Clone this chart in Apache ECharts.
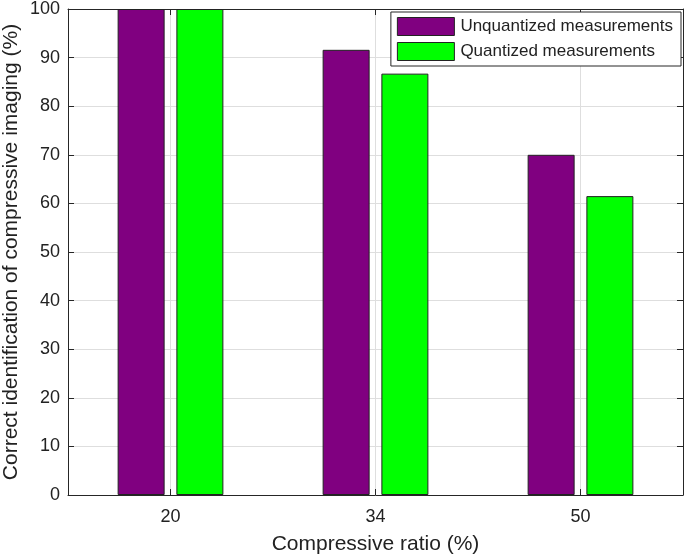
<!DOCTYPE html>
<html>
<head>
<meta charset="utf-8">
<script src="https://cdn.jsdelivr.net/npm/echarts@6/dist/echarts.min.js"></script>
<style>html,body{margin:0;padding:0;background:#fff}#c{width:685px;height:558px}</style>
</head>
<body>
<div id="c"></div>
<script>
var categories = ['20', '34', '50'];
var unquantized = [100, 91.6, 70];
var quantized = [100, 86.7, 61.5];
var yTicks = [0, 10, 20, 30, 40, 50, 60, 70, 80, 90, 100];
var seriesNames = ['Unquantized measurements', 'Quantized measurements'];

// helper axis for gridlines at category centers: 2n+1 slots, odd ones are centers
var helperCats = [];
for (var i = 0; i < categories.length * 2 + 1; i++) helperCats.push(i % 2 ? categories[(i - 1) / 2] : '');

var FONT = '"Liberation Sans", Arial, Helvetica, sans-serif';
var AX = '#262626';
var chart = echarts.init(document.getElementById('c'));
chart.setOption({
  animation: false,
  backgroundColor: '#fff',
  textStyle: { fontFamily: FONT },
  grid: { left: 68, right: 2, top: 9, bottom: 63, containLabel: false, outerBoundsMode: 'none' },
  legend: {
    orient: 'vertical', right: 4, top: 12,
    data: seriesNames,
    icon: 'rect', itemWidth: 57, itemHeight: 18, itemGap: 6,
    padding: [5, 8, 5, 6],
    borderColor: AX, borderWidth: 1, backgroundColor: '#fff',
    textStyle: { fontSize: 17, color: '#222', fontFamily: FONT, padding: [0, 0, 0, 1] },
    itemStyle: { borderColor: '#222', borderWidth: 1 }
  },
  xAxis: [
    {
      type: 'category', data: categories, position: 'bottom', boundaryGap: true,
      name: 'Compressive ratio (%)', nameLocation: 'middle', nameGap: 39, nameMoveOverlap: false,
      nameTextStyle: { fontSize: 21, color: '#222', fontFamily: FONT },
      axisLine: { show: true, lineStyle: { color: AX, width: 1 } },
      axisTick: { show: true, inside: true, alignWithLabel: true, length: 6, lineStyle: { color: AX } },
      axisLabel: { fontSize: 18, color: '#222', margin: 13, fontFamily: FONT },
      splitLine: { show: false }
    },
    {
      type: 'category', data: categories, position: 'top', boundaryGap: true,
      axisLine: { show: true, onZero: false, lineStyle: { color: AX, width: 1 } },
      axisTick: { show: true, inside: true, alignWithLabel: true, length: 6, lineStyle: { color: AX } },
      axisLabel: { show: false },
      splitLine: { show: false }
    },
    {
      type: 'category', data: helperCats, position: 'bottom', boundaryGap: false,
      axisLine: { show: false }, axisTick: { show: false }, axisLabel: { show: false },
      splitLine: { show: true, interval: function (idx) { return idx % 2 === 1; }, lineStyle: { color: '#dedede', width: 1 } }
    }
  ],
  yAxis: [
    {
      type: 'value', min: yTicks[0], max: yTicks[yTicks.length - 1], interval: yTicks[1] - yTicks[0], position: 'left',
      name: 'Correct identification of compressive imaging (%)', nameLocation: 'middle', nameGap: 46, nameRotate: 90,
      nameMoveOverlap: false,
      nameTextStyle: { fontSize: 21, color: '#222', fontFamily: FONT },
      axisLine: { show: true, lineStyle: { color: AX, width: 1 } },
      axisTick: { show: true, inside: true, length: 6, lineStyle: { color: AX } },
      axisLabel: { fontSize: 18, color: '#222', margin: 8, fontFamily: FONT },
      splitLine: { show: true, lineStyle: { color: '#dedede', width: 1 } }
    },
    {
      type: 'value', min: yTicks[0], max: yTicks[yTicks.length - 1], interval: yTicks[1] - yTicks[0], position: 'right',
      axisLine: { show: true, onZero: false, lineStyle: { color: AX, width: 1 } },
      axisTick: { show: true, inside: true, length: 6, lineStyle: { color: AX } },
      axisLabel: { show: false },
      splitLine: { show: false }
    }
  ],
  series: [
    {
      name: seriesNames[0], type: 'bar', data: unquantized, xAxisIndex: 0, yAxisIndex: 0,
      barWidth: 47, barGap: '25%',
      itemStyle: { color: '#800080', borderColor: '#222', borderWidth: 1 }
    },
    {
      name: seriesNames[1], type: 'bar', data: quantized, xAxisIndex: 0, yAxisIndex: 0,
      barWidth: 47, barGap: '25%',
      itemStyle: { color: '#00ff00', borderColor: '#222', borderWidth: 1 }
    }
  ]
});
</script>
</body>
</html>
